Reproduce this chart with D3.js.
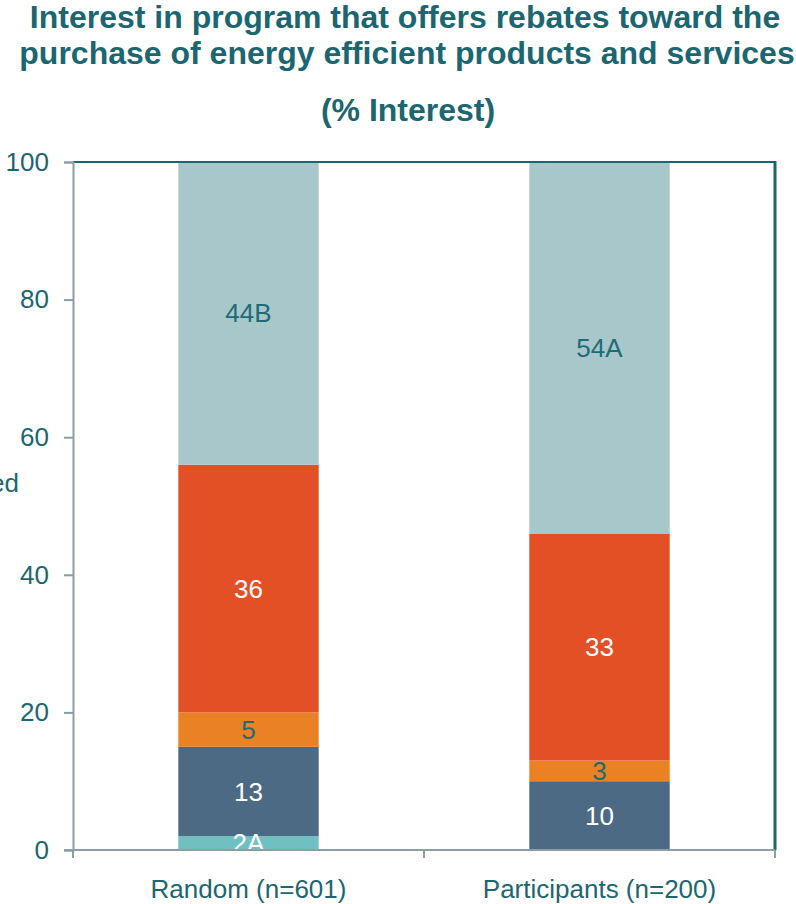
<!DOCTYPE html>
<html lang="en">
<head>
    <meta charset="UTF-8">
    <title>Interest in rebate program</title>
    <script src="https://d3js.org/d3.v7.min.js"></script>
    <style>
        body { margin: 0; background: white; }
        svg { display: block; font-family: "Liberation Sans", Arial, sans-serif; }
    </style>
</head>
<body>
    <svg id="svg"></svg>
    <script>
        // chart data
        const categories = ['Random (n=601)', 'Participants (n=200)'];
        const levels = ['level1', 'level2', 'level3', 'level4', 'level5'];
        const level1 = [2, 0];
        const level2 = [13, 10];
        const level3 = [5, 3];
        const level4 = [36, 33];
        const level5 = [44, 54];
        const level1Labels = ['2A', ''];
        const level2Labels = ['13', '10'];
        const level3Labels = ['5', '3'];
        const level4Labels = ['36', '33'];
        const level5Labels = ['44B', '54A'];
        const yTicks = [0, 20, 40, 60, 80, 100];

        const colors = ['#6fc1c1', '#4c6a84', '#eb8125', '#e35025', '#a7c7cb'];
        const labelColors = ['#ffffff', '#ffffff', '#1f6b75', '#ffffff', '#1f6b75'];
        const teal = '#1b6670';
        const grey = '#8a9ea3';

        const width = 796, height = 904;
        const svg = d3.select('#svg').attr('width', width).attr('height', height);

        const plotLeft = 73, plotRight = 775, plotTop = 162, plotBottom = 850;

        const xScale = d3.scaleBand().domain(categories).range([plotLeft, plotRight]).paddingInner(0.6).paddingOuter(0.3);
        const yScale = d3.scaleLinear().domain([0, 100]).range([plotBottom, plotTop]);

        const rows = categories.map((c, i) => ({
            cat: c,
            level1: level1[i], level2: level2[i], level3: level3[i], level4: level4[i], level5: level5[i]
        }));
        const labels = [level1Labels, level2Labels, level3Labels, level4Labels, level5Labels];
        const stack = d3.stack().keys(levels)(rows);

        //Title
        svg.append('text')
            .attr('x', 405).attr('y', 28)
            .attr('text-anchor', 'middle')
            .style('font-size', '32px').style('font-weight', 'bold')
            .attr('fill', teal)
            .text('Interest in program that offers rebates toward the');
        svg.append('text')
            .attr('x', 407).attr('y', 64)
            .attr('text-anchor', 'middle')
            .style('font-size', '32px').style('font-weight', 'bold')
            .attr('fill', teal)
            .text('purchase of energy efficient products and services');
        svg.append('text')
            .attr('x', 408).attr('y', 121)
            .attr('text-anchor', 'middle')
            .style('font-size', '32px').style('font-weight', 'bold')
            .attr('fill', teal)
            .text('(% Interest)');

        // cut off legend text at the left edge
        svg.append('text')
            .attr('x', 19).attr('y', 492)
            .attr('text-anchor', 'end')
            .style('font-size', '26px')
            .attr('fill', teal)
            .text('Not interested');

        // bars
        stack.forEach((layer, li) => {
            svg.append('g').selectAll('rect')
                .data(layer)
                .enter()
                .append('rect')
                .attr('x', d => xScale(d.data.cat))
                .attr('width', xScale.bandwidth())
                .attr('y', d => yScale(d[1]))
                .attr('height', d => yScale(d[0]) - yScale(d[1]))
                .attr('fill', colors[li]);
        });

        // bar labels
        stack.forEach((layer, li) => {
            svg.append('g').selectAll('text')
                .data(layer)
                .enter()
                .append('text')
                .attr('x', d => xScale(d.data.cat) + xScale.bandwidth() / 2)
                .attr('y', d => (yScale(d[0]) + yScale(d[1])) / 2 + 9)
                .attr('text-anchor', 'middle')
                .style('font-size', '26px')
                .attr('fill', labelColors[li])
                .text((d, i) => labels[li][i]);
        });

        // frame: top and right
        svg.append('line')
            .attr('x1', plotLeft).attr('x2', plotRight)
            .attr('y1', plotTop).attr('y2', plotTop)
            .attr('stroke', teal).attr('stroke-width', 2);
        svg.append('line')
            .attr('x1', plotRight).attr('x2', plotRight)
            .attr('y1', plotTop - 1).attr('y2', plotBottom)
            .attr('stroke', teal).attr('stroke-width', 3);

        //y axis
        const yAxis = d3.axisLeft(yScale).tickValues(yTicks).tickSize(9).tickPadding(15);
        const gy = svg.append('g')
            .attr('transform', 'translate(' + plotLeft + ',0)')
            .call(yAxis);
        gy.select('.domain').attr('stroke', grey).attr('stroke-width', 2);
        gy.selectAll('.tick line').attr('stroke', grey).attr('stroke-width', 2);
        gy.selectAll('.tick text')
            .attr('fill', teal)
            .style('font-size', '26px')
            .style('font-family', '"Liberation Sans", Arial, sans-serif');

        //x axis
        const xAxis = d3.axisBottom(xScale).tickSize(0).tickPadding(30);
        const gx = svg.append('g')
            .attr('transform', 'translate(0,' + plotBottom + ')')
            .call(xAxis);
        gx.select('.domain').attr('stroke', grey).attr('stroke-width', 2).attr('d', 'M' + (plotLeft - 9) + ',0H' + plotRight);
        gx.selectAll('.tick text')
            .attr('fill', teal)
            .style('font-size', '26px')
            .style('font-family', '"Liberation Sans", Arial, sans-serif');
        // tick marks between categories
        const dividers = [plotLeft, (plotLeft + plotRight) / 2, plotRight];
        gx.selectAll('.divider')
            .data(dividers)
            .enter()
            .append('line')
            .attr('x1', d => d).attr('x2', d => d)
            .attr('y1', 0).attr('y2', 8)
            .attr('stroke', grey).attr('stroke-width', 2);
    </script>
</body>
</html>
